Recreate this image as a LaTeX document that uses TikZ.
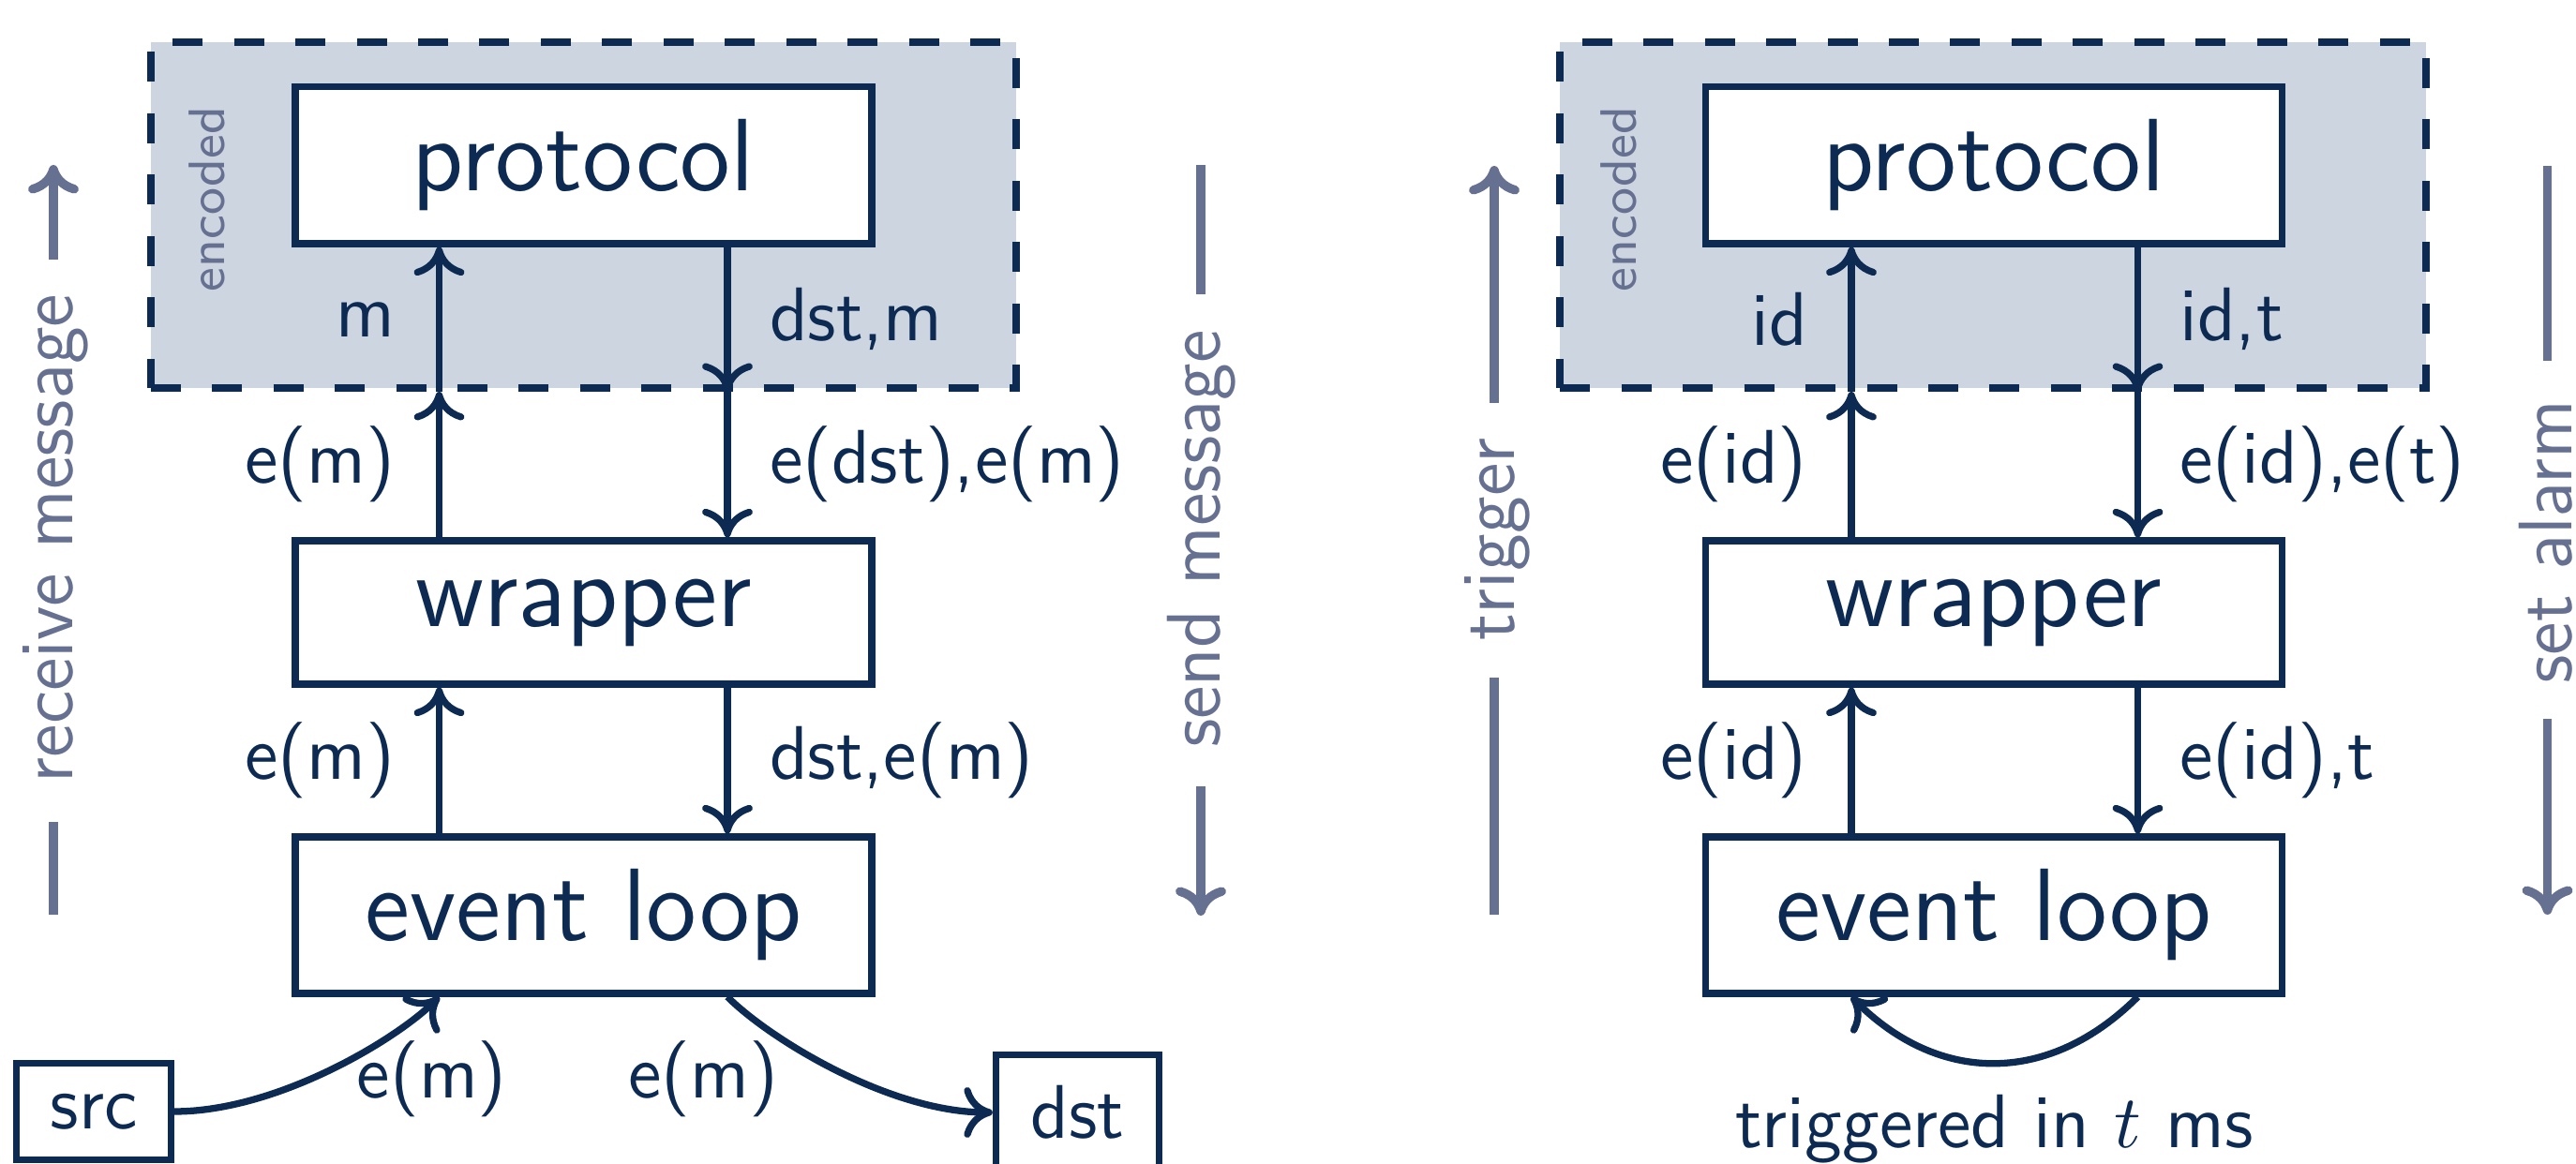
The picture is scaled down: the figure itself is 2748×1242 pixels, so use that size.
\documentclass[tikz,border=0pt]{standalone}
\usetikzlibrary{arrows.meta,calc}
\renewcommand{\familydefault}{\sfdefault}
\definecolor{navy}{HTML}{0C2A52}
\definecolor{sidegray}{HTML}{667091}
\definecolor{encfill}{HTML}{CDD5E1}
\newdimen\pxu \pxu=0.1375pt
\tikzset{
  box/.style={draw=navy, line width=1pt, fill=white, text=navy, inner sep=0pt,
    minimum width=615\pxu, font=\fontsize{15.1}{18}\selectfont},
  smallbox/.style={draw=navy, line width=1pt, fill=white, text=navy, inner sep=0pt,
    font=\fontsize{11.15}{13}\selectfont},
  encbox/.style={draw=navy, fill=encfill, line width=1.1pt, dash pattern=on 4.4pt off 4.6pt,
    minimum width=923.5\pxu, minimum height=368.5\pxu, inner sep=0pt},
  enclabel/.style={text=sidegray, rotate=90, anchor=base, inner sep=0pt,
    font=\fontsize{7.5}{9}\selectfont},
  lbl/.style={text=navy, inner sep=0pt, font=\fontsize{11.15}{13}\selectfont},
  tip/.style={-{Computer Modern Rightarrow[length=4.2pt,width=7.4pt]}},
  flow/.style={draw=navy, line width=1pt, tip},
  side/.style={text=sidegray, rotate=90, anchor=base, inner sep=0pt,
    font=\fontsize{11.15}{13}\selectfont},
  sideline/.style={draw=sidegray, line width=1.3pt},
  sidearrow/.style={sideline, tip},
}
\begin{document}
\begin{tikzpicture}[x=0.1375pt, y=-0.1375pt]
\useasboundingbox (0,0) rectangle (2748,1242);

% ---------------- left diagram ----------------
\node[encbox] (encL) at (622.5,229.75) {};
\node[enclabel] (encLt) at (239,212.5) {encoded};
\node[box, minimum height=167.5\pxu] (protL) at (622.5,176.25) {protocol};
\node[box, minimum height=153\pxu] (wrapL) at (622.5,653.5) {wrapper};
\node[box, minimum height=167\pxu] (elL) at (622.5,976.5) {event loop};
\node[smallbox, minimum width=165\pxu, minimum height=103.6\pxu] (src) at (100,1186) {src};
\node[smallbox, minimum width=174\pxu, minimum height=123.6\pxu] (dst) at (1149.5,1187) {dst};

\coordinate (upL) at (468.5,0);
\coordinate (dnL) at (776,0);

\draw[flow] (wrapL.north -| upL) -- node[lbl, left=6pt] (a1) {e(m)} (encL.south -| upL);
\draw[flow] (encL.south -| upL) -- node[lbl, left=6pt] (a2) {m} (protL.south -| upL);
\draw[flow] (protL.south -| dnL) -- node[lbl, right=5.7pt] (a3) {dst,m} (encL.south -| dnL);
\draw[flow] (encL.south -| dnL) -- node[lbl, right=5.7pt] (a4) {e(dst),e(m)} (wrapL.north -| dnL);
\draw[flow] (elL.north -| upL) -- node[lbl, left=6pt] (a5) {e(m)} (wrapL.south -| upL);
\draw[flow] (wrapL.south -| dnL) -- node[lbl, right=5.7pt] (a6) {dst,e(m)} (elL.north -| dnL);

\draw[flow] (src.east) .. controls +(110,0) and +(-45,45) .. (elL.south -| upL);
\draw[flow] (elL.south -| dnL) .. controls +(45,45) and +(-110,0) .. (dst.west);
\node[lbl] (lsrc) at (460.8,1151.6) {e(m)};
\node[lbl] (ldst) at (750.3,1151.6) {e(m)};

% side annotations left
\node[side] (rcv) at (77,574.5) {receive message};
\coordinate (rcvA) at (57,277);
\coordinate (rcvB) at (57,176);
\coordinate (rcvC) at (57,877);
\coordinate (rcvD) at (57,976);
\draw[sidearrow] (rcvA) -- (rcvB);
\draw[sideline] (rcvC) -- (rcvD);

\node[side] (snd) at (1301.5,575) {send message};
\coordinate (sndA) at (1281,176);
\coordinate (sndB) at (1281,314);
\coordinate (sndC) at (1281,839);
\coordinate (sndD) at (1281,977);
\draw[sideline] (sndA) -- (sndB);
\draw[sidearrow] (sndC) -- (sndD);

% ---------------- right diagram ----------------
\node[encbox] (encR) at (2126,229.75) {};
\node[enclabel] (encRt) at (1745,212.5) {encoded};
\node[box, minimum height=167.5\pxu] (protR) at (2127,176.25) {protocol};
\node[box, minimum height=153\pxu] (wrapR) at (2127,653.5) {wrapper};
\node[box, minimum height=167\pxu] (elR) at (2127,976.5) {event loop};

\coordinate (upR) at (1975,0);
\coordinate (dnR) at (2280.5,0);

\draw[flow] (wrapR.north -| upR) -- node[lbl, left=6pt] (b1) {e(id)} (encR.south -| upR);
\draw[flow] (encR.south -| upR) -- node[lbl, left=6pt] (b2) {id} (protR.south -| upR);
\draw[flow] (protR.south -| dnR) -- node[lbl, right=5.7pt] (b3) {id,t} (encR.south -| dnR);
\draw[flow] (encR.south -| dnR) -- node[lbl, right=5.7pt] (b4) {e(id),e(t)} (wrapR.north -| dnR);
\draw[flow] (elR.north -| upR) -- node[lbl, left=6pt] (b5) {e(id)} (wrapR.south -| upR);
\draw[flow] (wrapR.south -| dnR) -- node[lbl, right=5.7pt] (b6) {e(id),t} (elR.north -| dnR);

\draw[flow] (elR.south -| dnR) .. controls +(-94,94) and +(94,94) .. (elR.south -| upR);
\node[lbl, anchor=base] (trig) at (2127.5,1225) {triggered in $t$ ms};

% side annotations right
\node[side] (trg) at (1615,575.7) {trigger};
\coordinate (trgA) at (1594,430);
\coordinate (trgB) at (1594,177);
\coordinate (trgC) at (1594,723);
\coordinate (trgD) at (1594,976);
\draw[sidearrow] (trgA) -- (trgB);
\draw[sideline] (trgC) -- (trgD);

\node[side] (alm) at (2743,578) {set alarm};
\coordinate (almA) at (2717.5,177);
\coordinate (almB) at (2717.5,385.5);
\coordinate (almC) at (2717.5,767);
\coordinate (almD) at (2717.5,976);
\draw[sideline] (almA) -- (almB);
\draw[sidearrow] (almC) -- (almD);
\end{tikzpicture}
\end{document}
